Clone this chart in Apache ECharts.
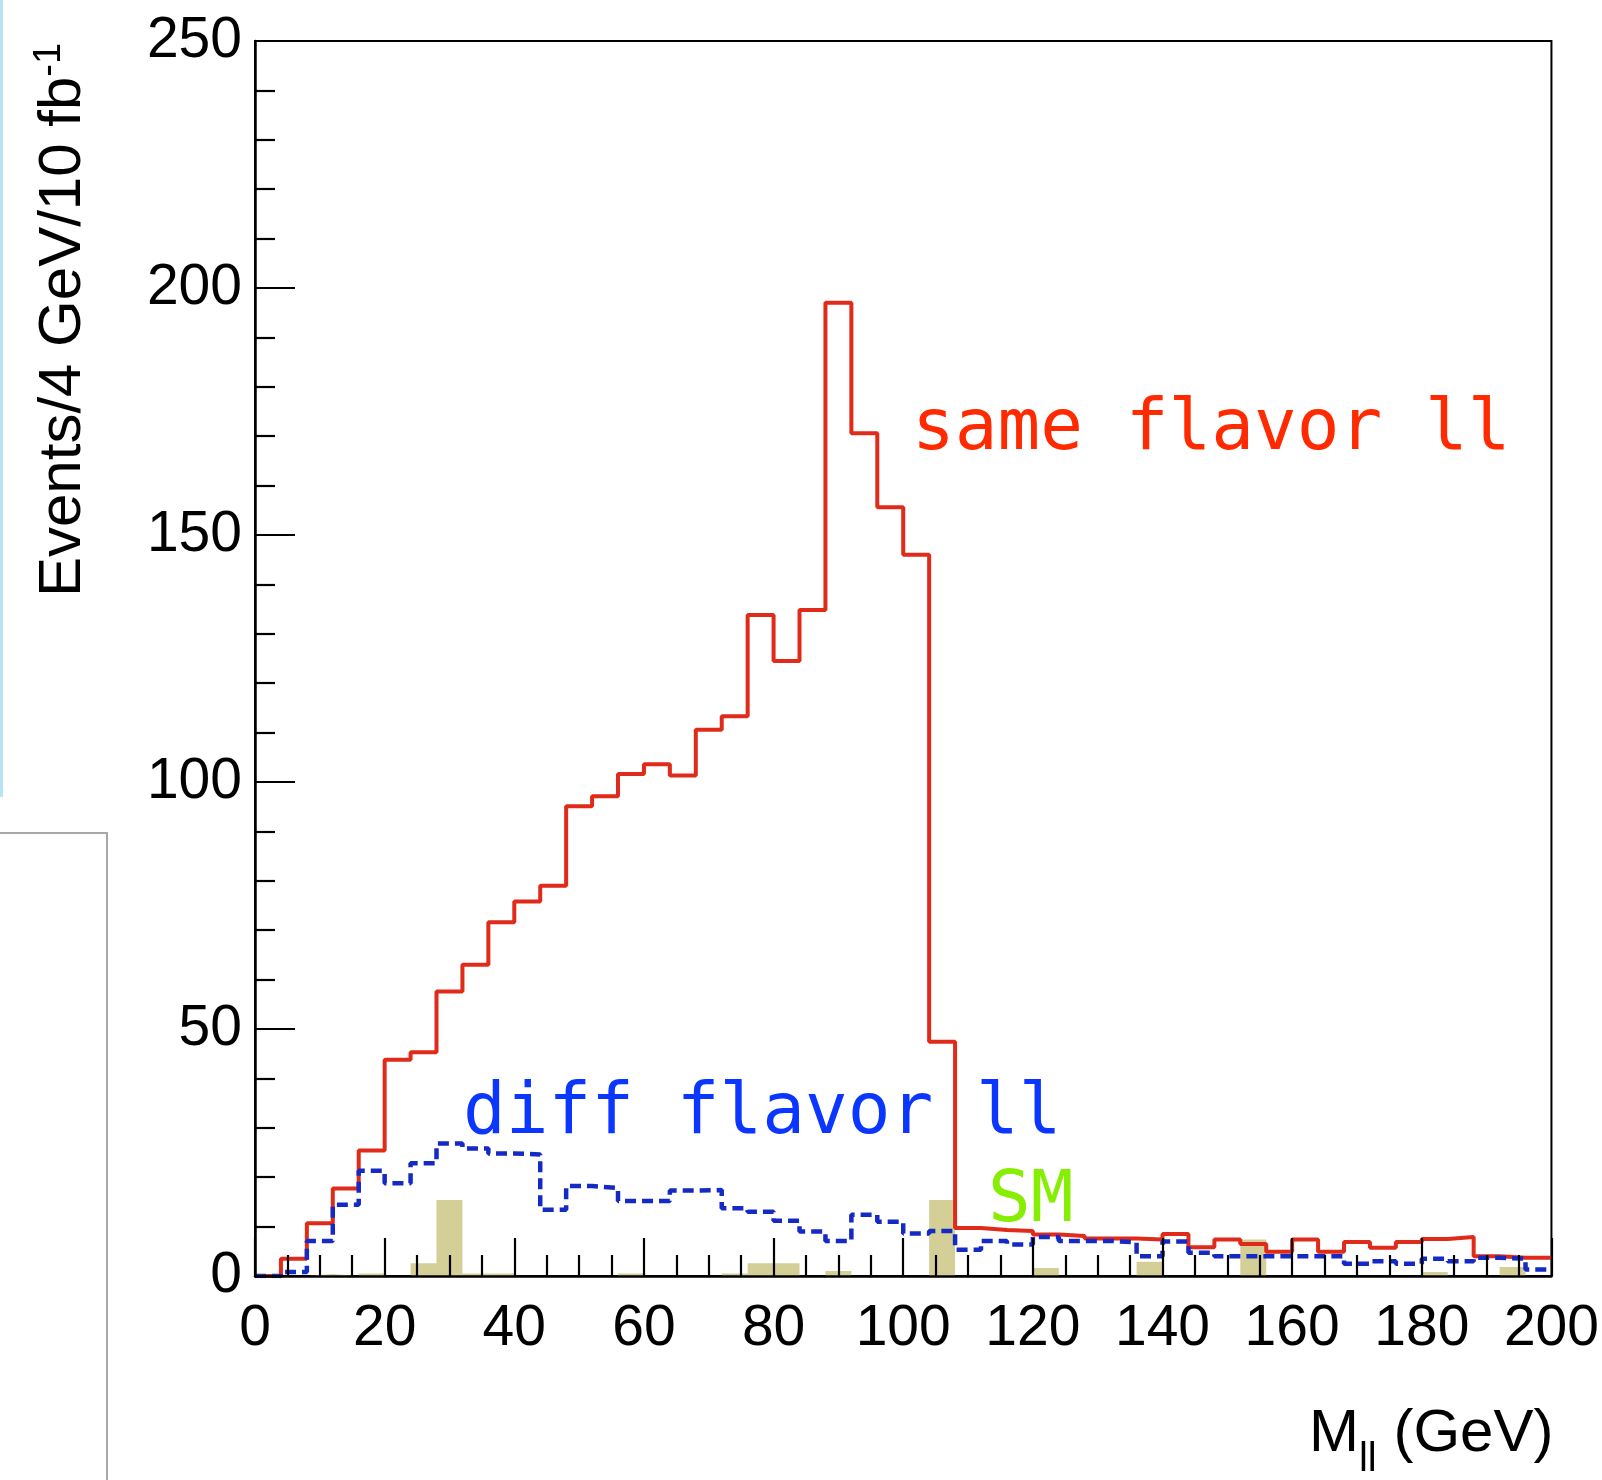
<!DOCTYPE html>
<html>
<head>
<meta charset="utf-8">
<title>Dilepton invariant mass</title>
<script src="https://cdn.jsdelivr.net/npm/echarts@6/dist/echarts.min.js"></script>
<style>
  html, body { margin: 0; padding: 0; background: #fff; }
  #chart { width: 1602px; height: 1480px; }
</style>
</head>
<body>
<div id="chart"></div>
<script>
// Histogram binning: 50 bins of 4 GeV from 0 to 200 GeV
const binWidth = 4;
const xMin = 0, xMax = 200;
const binLowEdges = [];
for (let e = xMin; e < xMax; e += binWidth) binLowEdges.push(e);

// Events per bin, same-flavour dileptons
const sameFlavor = [
  0, 3.5, 10.7, 17.7, 25.4, 43.8, 45.3, 57.6, 63.0, 71.6,
  75.8, 79.0, 95.1, 97.1, 101.6, 103.6, 101.3, 110.6, 113.3, 133.8,
  124.5, 134.8, 197.0, 170.6, 155.6, 146.0, 47.4, 9.7, 9.3, 9.1,
  8.4, 8.1, 7.6, 7.6, 7.4, 8.5, 5.8, 7.4, 6.5, 4.9,
  7.4, 4.9, 6.9, 5.7, 6.9, 7.5, 7.9, 4.0, 3.7, 3.7
];

// Events per bin, different-flavour dileptons
const diffFlavor = [
  0, 0.8, 7.1, 14.4, 21.3, 18.8, 22.8, 26.8, 25.8, 24.8,
  24.6, 13.4, 18.2, 17.8, 15.2, 15.2, 17.3, 17.4, 13.7, 13.0,
  11.2, 9.0, 7.1, 12.4, 11.0, 8.6, 9.1, 5.3, 7.1, 6.4,
  7.9, 7.1, 7.1, 6.8, 4.0, 7.0, 4.7, 4.0, 4.0, 4.0,
  4.0, 4.0, 2.5, 3.0, 2.5, 3.5, 3.0, 3.7, 3.5, 1.3
];

// Standard Model background per bin
const smBackground = [
  0, 0, 0.4, 0, 0.5, 0, 2.6, 15.4, 0.5, 0.5,
  0, 0, 0, 0, 0.5, 0, 0, 0, 0.5, 2.6,
  2.6, 0, 1.0, 0, 0, 0, 15.4, 0, 0, 0,
  1.6, 0, 0, 0, 2.9, 0, 0, 0, 7.4, 0,
  0, 0, 0, 0, 0, 0.8, 0, 0, 1.8, 0
];

// Axis ticks
const xTicks = [0, 20, 40, 60, 80, 100, 120, 140, 160, 180, 200];
const yTicks = [0, 50, 100, 150, 200, 250];

// Turn bin contents into step-line points: [lowEdge, content], closed at the upper edge
function histPoints(values) {
  const pts = values.map((v, i) => [binLowEdges[i], v]);
  pts.push([xMax, values[values.length - 1]]);
  return pts;
}

const chart = echarts.init(document.getElementById('chart'), null, { renderer: 'canvas' });

const tickFont = 'Liberation Sans, Arial, Helvetica, sans-serif';
const monoFont = '"DejaVu Sans Mono", "Liberation Mono", monospace';

chart.setOption({
  animation: false,
  backgroundColor: '#ffffff',
  grid: {
    left: 255, top: 41, right: 49, bottom: 195,
    show: true, borderColor: '#000', borderWidth: 2, backgroundColor: 'transparent'
  },
  xAxis: {
    type: 'value',
    min: xTicks[0], max: xTicks[xTicks.length - 1],
    interval: xTicks[1] - xTicks[0],
    z: 5,
    axisLine: { show: true, onZero: false, lineStyle: { color: '#000', width: 2.5 } },
    axisTick: { show: true, inside: true, length: 38, lineStyle: { color: '#000', width: 2.2 } },
    minorTick: { show: true, splitNumber: 4, length: 21, lineStyle: { color: '#000', width: 2.2 } },
    splitLine: { show: false },
    axisLabel: { color: '#000', fontSize: 57, fontFamily: tickFont, margin: 25 },
    name: '{a|M}{sub|ll}{a| (GeV)}',
    nameLocation: 'end',
    nameGap: 2,
    nameTextStyle: {
      align: 'right', verticalAlign: 'top', padding: [126, 0, 0, 0],
      rich: {
        a: { fontSize: 60, fontFamily: tickFont, color: '#000', lineHeight: 64 },
        sub: { fontSize: 40, fontFamily: tickFont, color: '#000', verticalAlign: 'bottom', lineHeight: 40, padding: [0, 0, -14, 0] }
      }
    }
  },
  yAxis: {
    type: 'value',
    min: yTicks[0], max: yTicks[yTicks.length - 1],
    interval: yTicks[1] - yTicks[0],
    z: 5,
    axisLine: { show: true, lineStyle: { color: '#000', width: 2.5 } },
    axisTick: { show: true, inside: true, length: 40, lineStyle: { color: '#000', width: 2.2 } },
    minorTick: { show: true, splitNumber: 5, length: 20, lineStyle: { color: '#000', width: 2.2 } },
    splitLine: { show: false },
    axisLabel: { color: '#000', fontSize: 57, fontFamily: tickFont, margin: 13 },
    name: '{a|Events/4 GeV/10 fb}{sup|-1}',
    nameLocation: 'middle',
    nameRotate: 90,
    nameGap: 160,
    nameTextStyle: {
      padding: [0, 0, 0, 677],
      rich: {
        a: { fontSize: 60, fontFamily: tickFont, color: '#000', lineHeight: 64 },
        sup: { fontSize: 38, fontFamily: tickFont, color: '#000', verticalAlign: 'top', lineHeight: 40, padding: [0, 0, 12, 0] }
      }
    }
  },
  series: [
    {
      name: 'SM',
      type: 'line',
      step: 'end',
      data: histPoints(smBackground),
      showSymbol: false,
      lineStyle: { width: 0, opacity: 0 },
      areaStyle: { color: '#d4cf97', opacity: 1 },
      z: 1
    },
    {
      name: 'same flavor ll',
      type: 'line',
      step: 'end',
      data: histPoints(sameFlavor),
      showSymbol: false,
      lineStyle: { color: '#e02b1a', width: 4 },
      z: 2
    },
    {
      name: 'diff flavor ll',
      type: 'line',
      step: 'end',
      data: histPoints(diffFlavor),
      showSymbol: false,
      lineStyle: { color: '#1529c4', width: 4.5, type: [11, 6] },
      z: 3
    }
  ],
  graphic: [
    // neighbouring panel edges
    { type: 'rect', shape: { x: 0, y: 0, width: 3, height: 797 }, style: { fill: '#b8e3f2' }, silent: true },
    { type: 'polyline', shape: { points: [[0, 833], [107, 833], [107, 1480]] },
      style: { stroke: '#a8a8a8', lineWidth: 2, fill: null }, silent: true },
    // series labels
    { type: 'text', left: 912, top: 449 - 54,
      style: { text: 'same flavor ll', fill: '#ff2a00', font: '71px ' + monoFont } },
    { type: 'text', left: 463, top: 1133 - 54,
      style: { text: 'diff flavor ll', fill: '#0a36ff', font: '71px ' + monoFont } },
    { type: 'text', left: 988, top: 1221 - 54,
      style: { text: 'SM', fill: '#86ee00', font: '71px ' + monoFont } }
  ]
});
</script>
</body>
</html>
